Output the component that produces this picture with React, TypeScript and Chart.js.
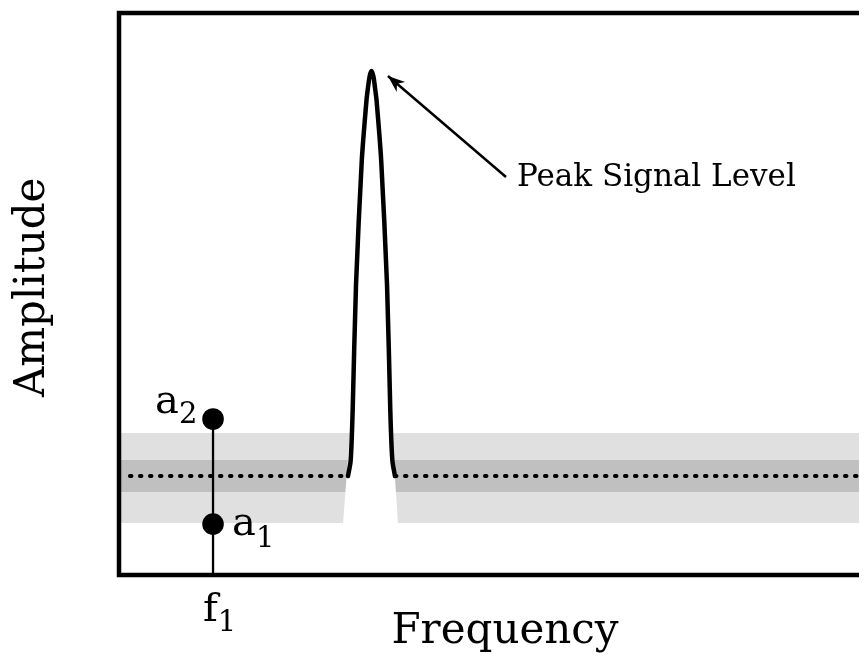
import React, { useEffect, useRef } from "react";
import { Chart, registerables } from "chart.js";

Chart.register(...registerables);

const FONT = "'DejaVu Serif', serif";

// Frequency / amplitude in arbitrary units (0..100)
const xRange = [0, 100];
const yRange = [0, 100];

const baselineLevel = 17.6;
const dottedLeft = [1.42, 29.66];
const dottedRight = [35.75, 100];

const peakFreq = [29.66, 29.99, 30.14, 30.27, 30.7, 31.45, 32.06, 32.25, 32.41, 32.55, 32.71, 32.86, 33.01, 33.16, 33.36, 33.96, 34.72, 35.14, 35.27, 35.43, 35.75];
const peakAmp = [17.6, 20.1, 24.0, 29.4, 51.6, 73.8, 84.5, 86.7, 88.3, 89.2, 89.7, 89.2, 88.3, 86.7, 84.5, 73.8, 51.6, 29.4, 24.0, 20.1, 17.6];

const outerBand = [9.25, 25.27];
const innerBand = [14.77, 20.46];
const gapTop = [29.92, 35.36];
const gapBottom = [29.02, 36.14];

const f1 = 12.18;
const a1 = 9.07;
const a2 = 27.76;

const arrowTail = [50.13, 70.82];
const arrowTip = [34.84, 88.79];
const peakLabel = "Peak Signal Level";
const peakLabelPos = [51.55, 69.2];

const xTitle = "Frequency";
const yTitle = " Amplitude";

const bandsPlugin = {
  id: "bands",
  beforeDatasetsDraw(chart: any) {
    const { ctx, chartArea, scales } = chart;
    const x = scales.x;
    const y = scales.y;
    ctx.save();
    ctx.beginPath();
    ctx.rect(chartArea.left, chartArea.top, chartArea.right - chartArea.left, chartArea.bottom - chartArea.top);
    ctx.clip();
    const x0 = x.getPixelForValue(xRange[0]);
    const x1 = x.getPixelForValue(xRange[1]);
    ctx.fillStyle = "#e0e0e0";
    ctx.fillRect(x0, y.getPixelForValue(outerBand[1]), x1 - x0, y.getPixelForValue(outerBand[0]) - y.getPixelForValue(outerBand[1]));
    ctx.fillStyle = "#c0c0c0";
    ctx.fillRect(x0, y.getPixelForValue(innerBand[1]), x1 - x0, y.getPixelForValue(innerBand[0]) - y.getPixelForValue(innerBand[1]));
    ctx.fillStyle = "#ffffff";
    ctx.beginPath();
    ctx.moveTo(x.getPixelForValue(gapTop[0]), y.getPixelForValue(outerBand[1]) - 0.5);
    ctx.lineTo(x.getPixelForValue(gapTop[1]), y.getPixelForValue(outerBand[1]) - 0.5);
    ctx.lineTo(x.getPixelForValue(gapBottom[1]), y.getPixelForValue(outerBand[0]) + 0.5);
    ctx.lineTo(x.getPixelForValue(gapBottom[0]), y.getPixelForValue(outerBand[0]) + 0.5);
    ctx.closePath();
    ctx.fill();
    ctx.restore();
  },
};

function drawSub(ctx: any, main: string, sub: string, x: number, y: number, mainSize: number, subSize: number, subDrop: number) {
  ctx.font = `${mainSize}px ${FONT}`;
  ctx.fillText(main, x, y);
  const w = ctx.measureText(main).width;
  ctx.font = `${subSize}px ${FONT}`;
  ctx.fillText(sub, x + w, y + subDrop);
}

const annotPlugin = {
  id: "annot",
  afterDatasetsDraw(chart: any) {
    const { ctx, chartArea, scales } = chart;
    const x = scales.x;
    const y = scales.y;
    ctx.save();
    // frame
    ctx.strokeStyle = "#000";
    ctx.lineWidth = 4.5;
    ctx.lineCap = "square";
    ctx.strokeRect(chartArea.left, chartArea.top, chartArea.right - chartArea.left, chartArea.bottom - chartArea.top);

    // arrow head
    const tx = x.getPixelForValue(arrowTip[0]);
    const ty = y.getPixelForValue(arrowTip[1]);
    const sx = x.getPixelForValue(arrowTail[0]);
    const sy = y.getPixelForValue(arrowTail[1]);
    const ang = Math.atan2(ty - sy, tx - sx);
    const len = 17;
    const hw = 6.5;
    const bx = tx - len * Math.cos(ang);
    const by = ty - len * Math.sin(ang);
    ctx.fillStyle = "#000";
    ctx.beginPath();
    ctx.moveTo(tx, ty);
    ctx.lineTo(bx + hw * Math.sin(ang), by - hw * Math.cos(ang));
    ctx.lineTo(bx + 0.3 * len * Math.cos(ang), by + 0.3 * len * Math.sin(ang));
    ctx.lineTo(bx - hw * Math.sin(ang), by + hw * Math.cos(ang));
    ctx.closePath();
    ctx.fill();

    // texts
    ctx.fillStyle = "#000";
    ctx.textBaseline = "alphabetic";
    ctx.textAlign = "left";
    ctx.font = `31px ${FONT}`;
    ctx.fillText(peakLabel, x.getPixelForValue(peakLabelPos[0]), y.getPixelForValue(peakLabelPos[1]));

    const fx = x.getPixelForValue(f1);
    drawSub(ctx, "a", "2", fx - 58, y.getPixelForValue(a2) - 6, 40, 29, 10);
    drawSub(ctx, "a", "1", fx + 19, y.getPixelForValue(a1) + 11, 40, 29, 12);
    drawSub(ctx, "f", "1", fx - 10, chartArea.bottom + 46, 40, 29, 10);
    ctx.restore();
  },
};

export default function App() {
  const ref = useRef<HTMLCanvasElement>(null);
  useEffect(() => {
    if (!ref.current) return;
    const chart = new Chart(ref.current, {
      type: "scatter",
      data: {
        datasets: [
          {
            data: dottedLeft.map((v) => ({ x: v, y: baselineLevel })),
            showLine: true,
            borderColor: "#000",
            borderWidth: 4,
            borderDash: [1.5, 8.5],
            borderCapStyle: "round",
            pointRadius: 0,
          },
          {
            data: dottedRight.map((v) => ({ x: v, y: baselineLevel })),
            showLine: true,
            borderColor: "#000",
            borderWidth: 4,
            borderDash: [1.5, 8.5],
            borderCapStyle: "round",
            pointRadius: 0,
          },
          {
            data: peakFreq.map((v, i) => ({ x: v, y: peakAmp[i] })),
            showLine: true,
            borderColor: "#000",
            borderWidth: 4.5,
            borderJoinStyle: "round",
            borderCapStyle: "round",
            tension: 0.25,
            pointRadius: 0,
          },
          {
            data: [{ x: f1, y: yRange[0] }, { x: f1, y: a2 }],
            showLine: true,
            borderColor: "#000",
            borderWidth: 2.3,
            pointRadius: 0,
          },
          {
            data: [{ x: f1, y: a1 }, { x: f1, y: a2 }],
            showLine: false,
            pointRadius: 10.8,
            pointBackgroundColor: "#000",
            pointBorderWidth: 0,
          },
          {
            data: [{ x: arrowTail[0], y: arrowTail[1] }, { x: arrowTip[0], y: arrowTip[1] }],
            showLine: true,
            borderColor: "#000",
            borderWidth: 2.5,
            pointRadius: 0,
          },
        ],
      } as any,
      options: {
        responsive: false,
        animation: false,
        layout: { autoPadding: false, padding: { left: 1, top: 5, right: 7, bottom: 7 } },
        plugins: { legend: { display: false }, tooltip: { enabled: false } },
        scales: {
          x: {
            type: "linear",
            min: xRange[0],
            max: xRange[1],
            ticks: { display: false },
            grid: { display: false, drawTicks: false },
            border: { display: false },
            title: {
              display: true,
              text: xTitle,
              color: "#000",
              font: { family: FONT, size: 42, lineHeight: 1 },
              padding: { top: 36, bottom: 0 },
            },
          },
          y: {
            type: "linear",
            min: yRange[0],
            max: yRange[1],
            ticks: { display: false },
            grid: { display: false, drawTicks: false },
            border: { display: false },
            title: {
              display: true,
              text: yTitle,
              color: "#000",
              font: { family: FONT, size: 42, lineHeight: 1 },
              padding: { top: 3, bottom: 65 },
            },
          },
        },
      } as any,
      plugins: [bandsPlugin, annotPlugin],
    });
    return () => chart.destroy();
  }, []);
  return (
    <div style={{ width: 859, height: 652, overflow: "hidden", position: "relative" }}>
      <canvas ref={ref} width={890} height={652} style={{ display: "block" }} />
    </div>
  );
}
